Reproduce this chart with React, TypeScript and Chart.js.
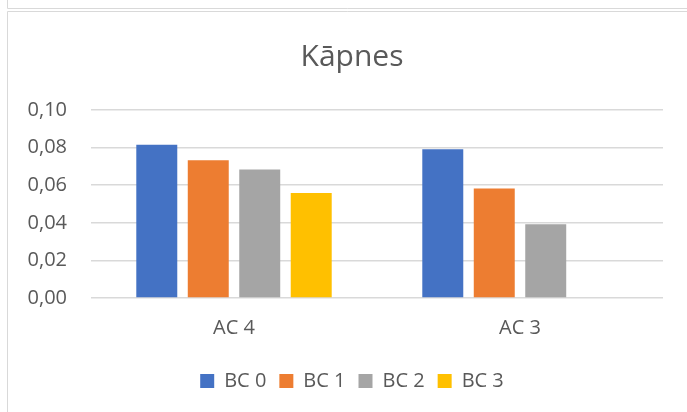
import React, { useEffect, useRef } from "react";
import { Chart, registerables } from "chart.js";

Chart.register(...registerables);

const categories = ["AC 4", "AC 3"];
const seriesNames = ["BC 0", "BC 1", "BC 2", "BC 3"];
const bc0 = [0.0815, 0.0791];
const bc1 = [0.0733, 0.0583];
const bc2 = [0.0683, 0.0392];
const bc3: (number | null)[] = [0.0558, null];
const seriesColors = ["#4472C4", "#ED7D31", "#A5A5A5", "#FFC000"];
const yMin = 0;
const yMax = 0.1;
const yStep = 0.02;
const titleText = "Kāpnes";

const FONT = "'Open Sans', 'Noto Sans', sans-serif";
const TEXT = "#595959";

const framePlugin = {
  id: "frame",
  beforeDraw(chart: any) {
    const ctx = chart.ctx;
    const w = chart.width;
    const h = chart.height;
    ctx.save();
    ctx.fillStyle = "#ffffff";
    ctx.fillRect(0, 0, w, h);
    ctx.strokeStyle = "#D9D9D9";
    ctx.lineWidth = 1;
    ctx.beginPath();
    ctx.moveTo(7.5, 0);
    ctx.lineTo(7.5, 8.5);
    ctx.lineTo(w, 8.5);
    ctx.moveTo(7.5, h);
    ctx.lineTo(7.5, 11.5);
    ctx.lineTo(w, 11.5);
    ctx.stroke();
    ctx.restore();
  },
};

export default function App() {
  const ref = useRef<HTMLCanvasElement | null>(null);

  useEffect(() => {
    if (!ref.current) return;
    const allSeries = [bc0, bc1, bc2, bc3];
    const chart = new Chart(ref.current, {
      type: "bar",
      data: {
        labels: categories,
        datasets: seriesNames.map((name, i) => ({
          label: name,
          data: allSeries[i],
          backgroundColor: seriesColors[i],
          borderWidth: 0,
          categoryPercentage: 0.72,
          barPercentage: 0.796,
        })),
      },
      options: {
        responsive: false,
        animation: false,
        layout: { padding: { top: 12, left: 41, right: 24, bottom: 11 } },
        plugins: {
          title: {
            display: true,
            text: titleText,
            color: TEXT,
            font: { family: FONT, size: 30, weight: "normal" },
            padding: { top: 27, bottom: 35 },
          },
          legend: {
            position: "bottom",
            labels: {
              color: TEXT,
              font: { family: FONT, size: 20 },
              boxWidth: 14,
              boxHeight: 14,
              padding: 13,
            },
          },
          tooltip: { enabled: false },
        },
        scales: {
          x: {
            grid: { display: false, drawTicks: false },
            border: { display: false },
            ticks: {
              color: TEXT,
              font: { family: FONT, size: 20 },
              padding: 18,
            },
            afterFit(scale: any) {
              scale.height = 60;
            },
          },
          y: {
            min: yMin,
            max: yMax,
            grid: { color: "#D9D9D9", lineWidth: 1.5, drawTicks: false },
            border: { display: false },
            ticks: {
              stepSize: yStep,
              color: TEXT,
              font: { family: FONT, size: 20 },
              padding: 24,
              callback: (v: any) => Number(v).toFixed(2).replace(".", ","),
            },
            afterFit(scale: any) {
              scale.width = 50;
              scale._computeLabelArea = () => undefined;
            },
          },
        },
      },
      plugins: [framePlugin],
    });
    return () => chart.destroy();
  }, []);

  return (
    <canvas
      ref={ref}
      width={687}
      height={412}
      style={{ position: "absolute", left: 0, top: 0, display: "block" }}
    />
  );
}
